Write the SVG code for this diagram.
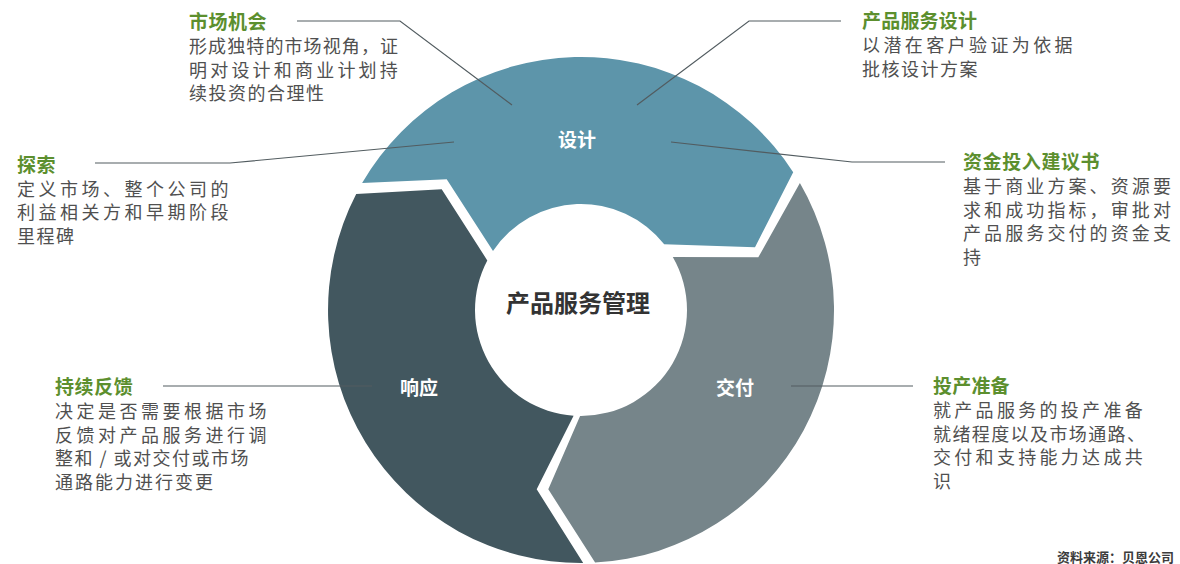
<svg xmlns="http://www.w3.org/2000/svg" width="1180" height="564" viewBox="0 0 1180 564">
<style>
text{font-family:"Noto Sans CJK SC","Noto Sans",sans-serif}
.b{font-size:18px;fill:#505050;letter-spacing:1.5px}
.t{font-size:19px;font-weight:700;fill:#5c8f2e}
.seg{font-size:19px;font-weight:700;fill:#ffffff;text-anchor:middle}
.c{fill:none;stroke:#525c60;stroke-width:1.2}
</style>
<rect width="1180" height="564" fill="#ffffff"/>
<g id="ring">
<path id="design" d="M 362.1,183.1 A 253 253 0 0 1 793.2,172.2 L 755,247.3 L 664.2,244.3 A 106 106 0 0 0 493,250.9 L 446.7,179.3 Z" fill="#5d95aa"/>
<path id="delivery" d="M 799.9,183.1 A 253 253 0 0 1 595.1,562.6 L 548.3,489.3 L 580.1,416 A 106 106 0 0 0 672.8,257 L 758.3,257.3 Z" fill="#76858a"/>
<path id="response" d="M 583.2,563 A 253 253 0 0 1 356.2,194 L 441.7,189.3 L 487.3,260.4 A 106 106 0 0 0 573.6,415.7 L 536.7,489.3 Z" fill="#42575f"/>
</g>
<g id="connectors">
<polyline class="c" points="297,21 400,21 512,105"/>
<polyline class="c" points="841,21 749,21 637,105"/>
<polyline class="c" points="95,163 230,163 454,142"/>
<polyline class="c" points="945,162 852,162 671,142"/>
<line class="c" x1="163" y1="386" x2="372" y2="386"/>
<line class="c" x1="791" y1="386" x2="913" y2="386"/>
</g>
<g id="center"><text x="578" y="312" text-anchor="middle" style="font-size:24px;font-weight:700;fill:#333333">产品服务管理</text></g>
<g id="label-design"><text class="seg" x="577" y="147">设计</text></g>
<g id="label-response"><text class="seg" x="419" y="395">响应</text></g>
<g id="label-delivery"><text class="seg" x="735" y="395">交付</text></g>
<g id="market">
<text class="b"><tspan class="t" x="189" y="29" style="letter-spacing:0.5px">市场机会</tspan><tspan x="189" y="53" style="letter-spacing:1.1px">形成独特的市场视角，证</tspan><tspan x="189" y="76.6" style="letter-spacing:3.2px">明对设计和商业计划持</tspan><tspan x="189" y="100.2">续投资的合理性</tspan></text>
</g>
<g id="explore">
<text class="b"><tspan class="t" x="17" y="171.5" style="letter-spacing:0.5px">探索</tspan><tspan x="17" y="195.5" style="letter-spacing:3.5px">定义市场、整个公司的</tspan><tspan x="17" y="219.1" style="letter-spacing:3.5px">利益相关方和早期阶段</tspan><tspan x="17" y="242.7">里程碑</tspan></text>
</g>
<g id="product-design">
<text class="b"><tspan class="t" x="862" y="28" style="letter-spacing:0.2px">产品服务设计</tspan><tspan x="862" y="52" style="letter-spacing:3.4px">以潜在客户验证为依据</tspan><tspan x="862" y="75.6">批核设计方案</tspan></text>
</g>
<g id="funding">
<text class="b"><tspan class="t" x="963" y="169" style="letter-spacing:0.6px">资金投入建议书</tspan><tspan x="963" y="193" style="letter-spacing:3.1px">基于商业方案、资源要</tspan><tspan x="963" y="216.6" style="letter-spacing:3.1px">求和成功指标，审批对</tspan><tspan x="963" y="240.2" style="letter-spacing:3.1px">产品服务交付的资金支</tspan><tspan x="963" y="263.8">持</tspan></text>
</g>
<g id="feedback">
<text class="b"><tspan class="t" x="55" y="394" style="letter-spacing:0.6px">持续反馈</tspan><tspan x="55" y="418" style="letter-spacing:3.5px">决定是否需要根据市场</tspan><tspan x="55" y="441.6" style="letter-spacing:3.5px">反馈对产品服务进行调</tspan><tspan x="55" y="465.2">整和 / 或对交付或市场</tspan><tspan x="55" y="488.8" style="letter-spacing:2px">通路能力进行变更</tspan></text>
</g>
<g id="launch">
<text class="b"><tspan class="t" x="933" y="393" style="letter-spacing:0.2px">投产准备</tspan><tspan x="933" y="417" style="letter-spacing:3.3px">就产品服务的投产准备</tspan><tspan x="933" y="440.6" style="letter-spacing:1.4px">就绪程度以及市场通路、</tspan><tspan x="933" y="464.2" style="letter-spacing:3.3px">交付和支持能力达成共</tspan><tspan x="933" y="487.8">识</tspan></text>
</g>
<g id="source"><text x="1174" y="562" text-anchor="end" style="font-size:13px;font-weight:700;fill:#3c3c3c">资料来源：贝恩公司</text></g>
</svg>
